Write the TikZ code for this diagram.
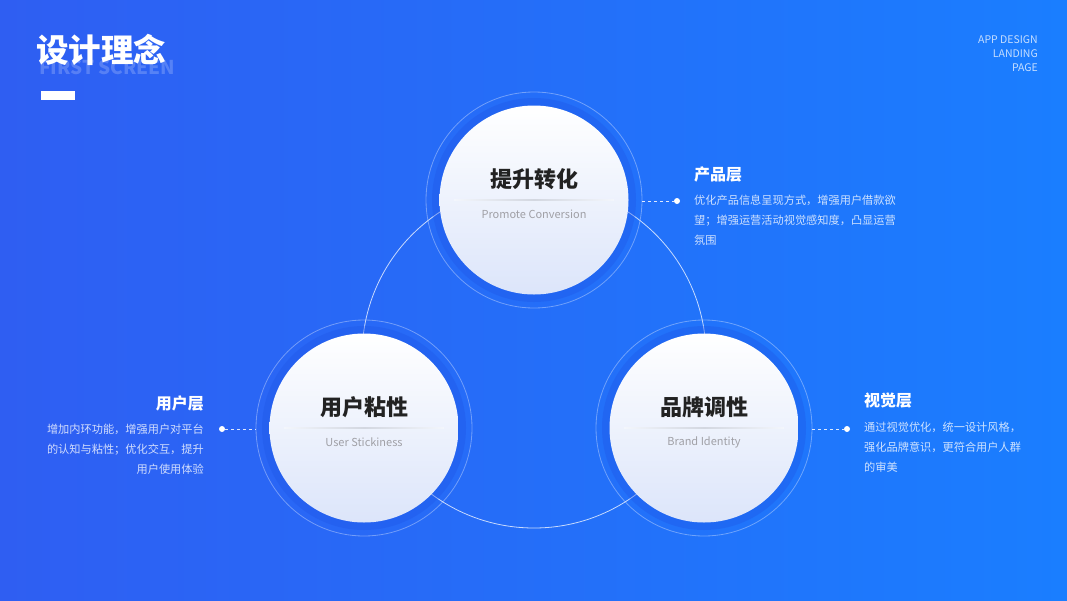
\documentclass[tikz,border=0pt]{standalone}
\usepackage{fontspec}
\setmainfont{Noto Sans CJK SC}
\newfontfamily\cjk{Noto Sans CJK SC}
\usetikzlibrary{calc}
\definecolor{bgL}{HTML}{2F5EF2}
\definecolor{bgR}{HTML}{1A7EFF}
\definecolor{band}{HTML}{1E55E6}
\definecolor{disk}{HTML}{DCE5FA}
\definecolor{midd}{HTML}{F3F6FC}
\definecolor{ttl}{HTML}{222222}
\definecolor{sub}{HTML}{A0A0A6}
\definecolor{divl}{HTML}{D3D7E0}
\tikzset{
  bigtitle/.style={font=\cjk\fontsize{22}{26}\selectfont\bfseries, text=ttl, inner sep=0pt},
  subtitle/.style={font=\cjk\fontsize{11}{13}\selectfont, text=sub, inner sep=0pt},
  sidehead/.style={font=\cjk\fontsize{16}{19}\selectfont\bfseries, text=white, inner sep=0pt},
  sidebody/.style={font=\cjk\fontsize{11.2}{20}\selectfont, text=white, text opacity=0.78, inner sep=0pt},
  leader/.style={draw=white, draw opacity=0.85, line width=0.8pt, dash pattern=on 3pt off 3pt},
  dotmark/.style={circle, fill=white, inner sep=0pt, minimum size=6pt},
  ringline/.style={draw=white, draw opacity=0.35, line width=0.8pt},
}
\newcommand{\bubble}[5]{% name, x, y, title, subtitle
  \fill[band, fill opacity=0.35] (#2,#3) circle (102);
  \draw[ringline] (#2,#3) circle (108);
  \shade[top color=white, bottom color=disk] (#2,#3) circle (94.5);
  \coordinate (#1) at (#2,#3);
  \shade[left color=midd, right color=midd, middle color=divl] ($(#1)+(-80,-0.4)$) rectangle ($(#1)+(80,0.4)$);
  \node[bigtitle] (#1-t) at ($(#1)+(0,-21)$) {#4};
  \node[subtitle] (#1-s) at ($(#1)+(0,14)$) {#5};
}
\begin{document}
\begin{tikzpicture}[x=1pt,y=-1pt]
\useasboundingbox (0,0) rectangle (1067,600);
\shade[left color=bgL, right color=bgR] (0,0) rectangle (1067,600);
% big connecting circle
\coordinate (hub) at (534,356);
\draw[white, draw opacity=0.75, line width=0.8pt] (hub) circle (172);
% title
\node[font=\fontsize{19}{22}\selectfont\bfseries, text=white, text opacity=0.2, anchor=west, inner sep=0pt] (fs) at (39,67) {FIRST SCREEN};
\node[font=\cjk\fontsize{32.5}{36}\selectfont\bfseries, text=white, anchor=west, inner sep=0pt] (tt) at (36,50) {设计理念};
\fill[white] (41,91) rectangle (75,100);
\node[font=\fontsize{10.5}{14}\selectfont, text=white, text opacity=0.75, align=right, anchor=north east, inner sep=0pt] (app) at (1038,35) {APP DESIGN\\LANDING\\PAGE};
% bubbles
\bubble{top}{534}{200}{提升转化}{Promote Conversion}
\bubble{lft}{364}{428}{用户粘性}{User Stickiness}
\bubble{rgt}{704}{428}{品牌调性}{Brand Identity}
% right top annotation
\node[dotmark] (d1) at (677,201) {};
\coordinate (e1) at (642,201);
\draw[leader] (e1) -- (d1);
\node[sidehead, anchor=west] (h1) at (694,174) {产品层};
\node[sidebody, anchor=north west, align=left] (b1) at (694,195) {优化产品信息呈现方式，增强用户借款欲\\望；增强运营活动视觉感知度，凸显运营\\氛围};
% left annotation
\node[dotmark] (d2) at (222,429) {};
\coordinate (e2) at (256,429);
\draw[leader] (d2) -- (e2);
\node[sidehead, anchor=east] (h2) at (204,403) {用户层};
\node[sidebody, anchor=north east, align=right] (b2) at (204,424) {增加内环功能，增强用户对平台\\的认知与粘性；优化交互，提升\\用户使用体验};
% right annotation
\node[dotmark] (d3) at (847,429) {};
\coordinate (e3) at (812,429);
\draw[leader] (e3) -- (d3);
\node[sidehead, anchor=west] (h3) at (864,400) {视觉层};
\node[sidebody, anchor=north west, align=left] (b3) at (864,422) {通过视觉优化，统一设计风格，\\强化品牌意识，更符合用户人群\\的审美};
\end{tikzpicture}
\end{document}
